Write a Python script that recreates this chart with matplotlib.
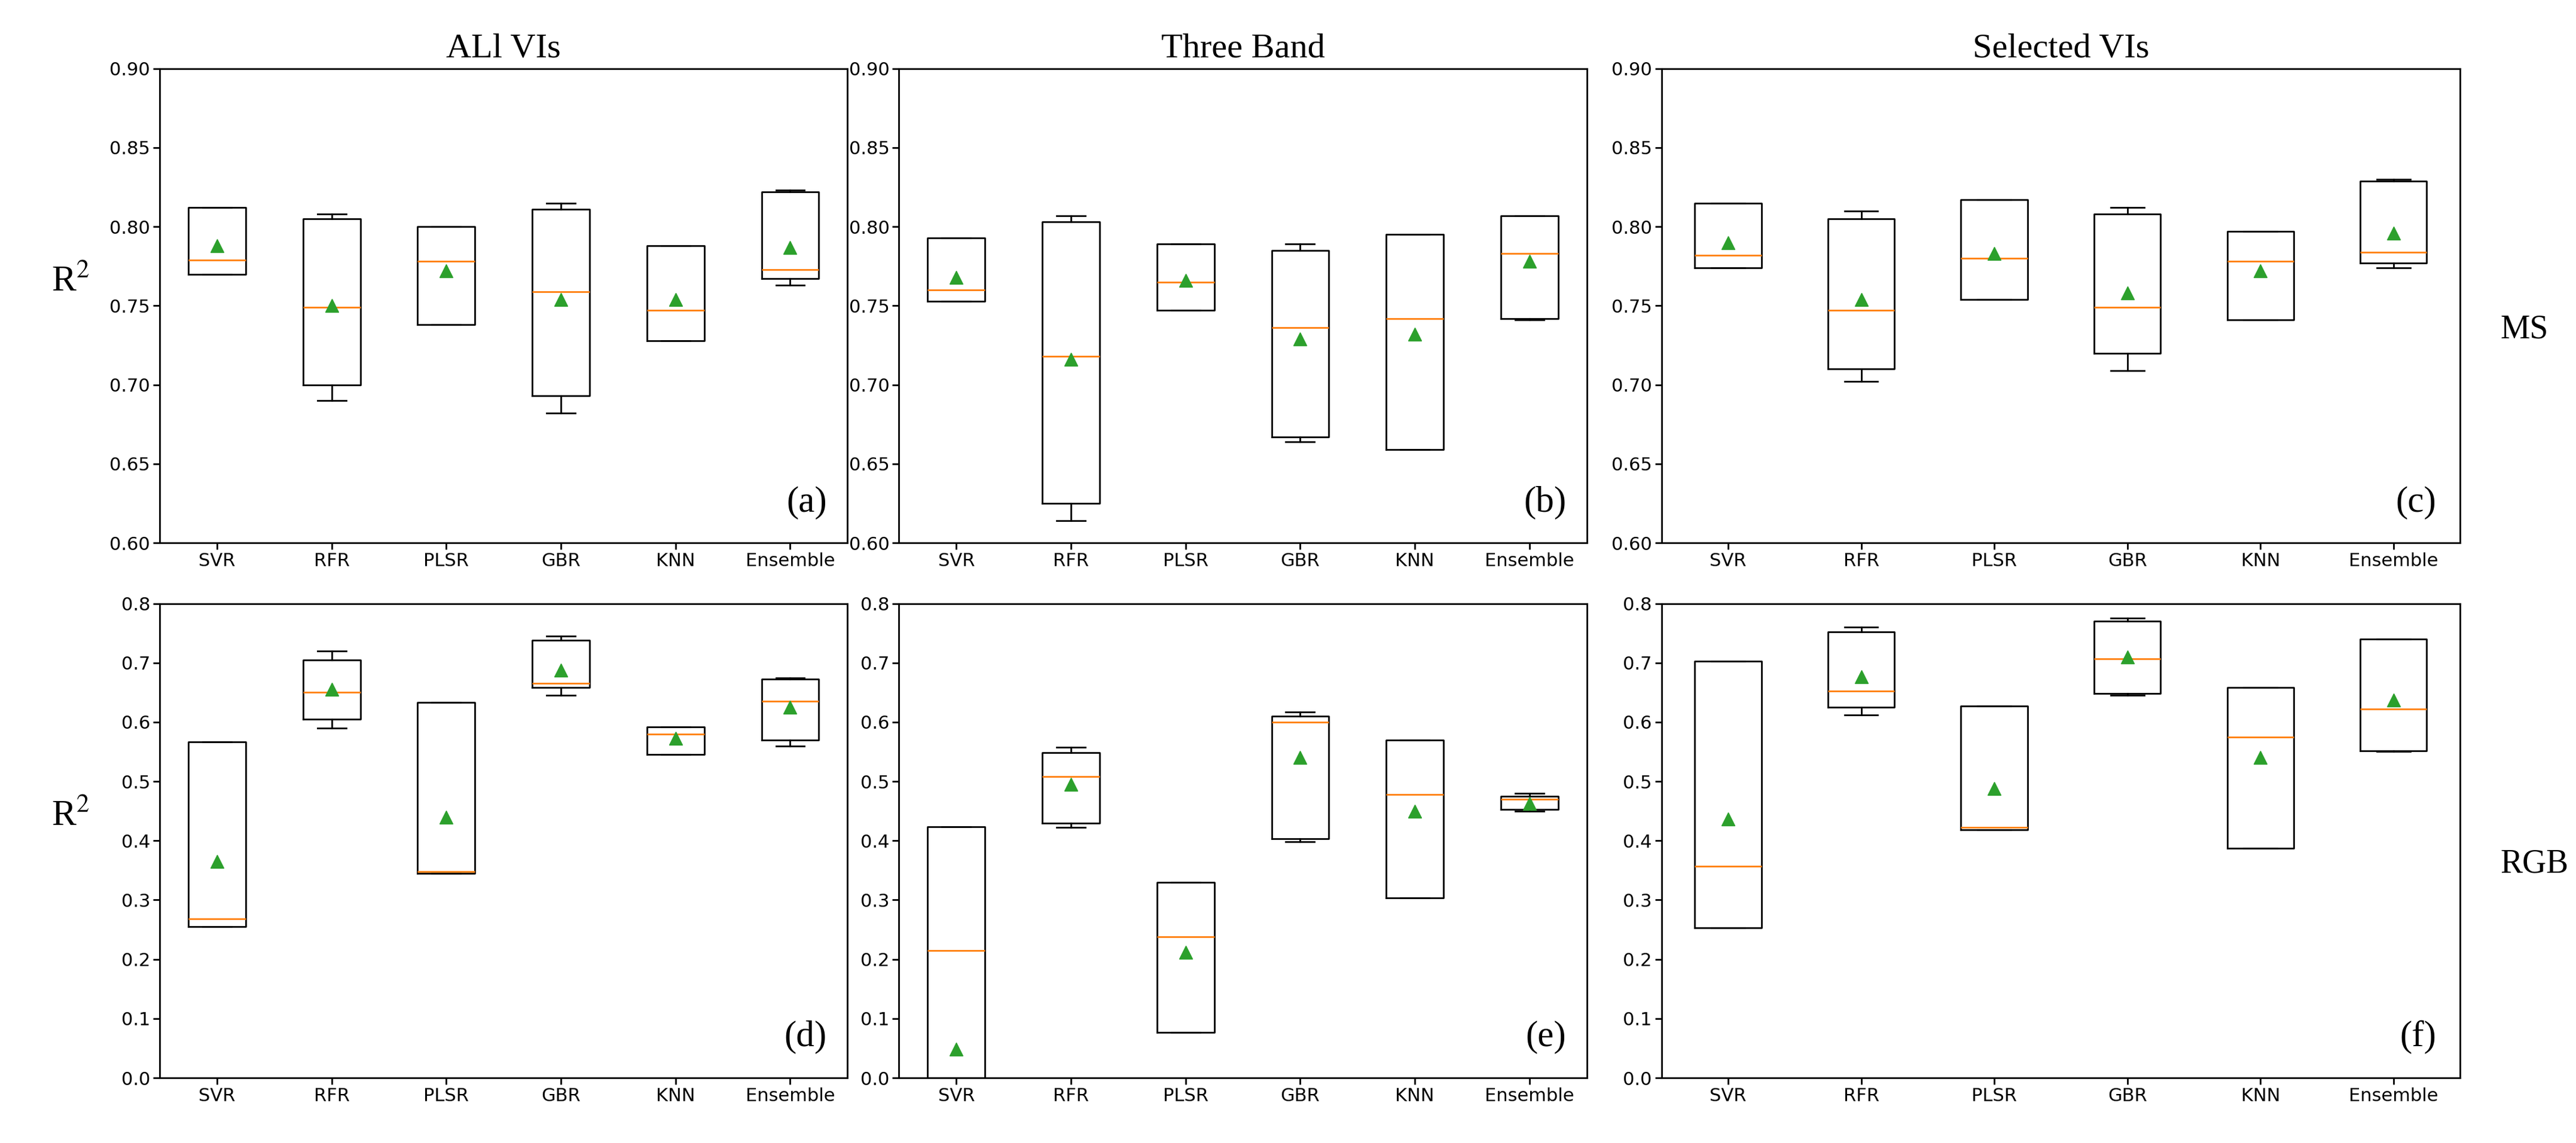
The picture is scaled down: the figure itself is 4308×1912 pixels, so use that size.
import matplotlib.pyplot as plt

plt.rcParams['mathtext.fontset'] = 'stix'

models = ["SVR", "RFR", "PLSR", "GBR", "KNN", "Ensemble"]
titles = ["ALl VIs", "Three Band", "Selected VIs"]
panel_tags = ["(a)", "(b)", "(c)", "(d)", "(e)", "(f)"]

# per model: whislo, q1, med, q3, whishi, mean
ms_all = [[0.770, 0.770, 0.779, 0.812, 0.812, 0.788],
          [0.690, 0.700, 0.749, 0.805, 0.808, 0.750],
          [0.738, 0.738, 0.778, 0.800, 0.800, 0.772],
          [0.682, 0.693, 0.759, 0.811, 0.815, 0.754],
          [0.728, 0.728, 0.747, 0.788, 0.788, 0.754],
          [0.763, 0.767, 0.773, 0.822, 0.823, 0.787]]
ms_three = [[0.753, 0.753, 0.760, 0.793, 0.793, 0.768],
            [0.614, 0.625, 0.718, 0.803, 0.807, 0.716],
            [0.747, 0.747, 0.765, 0.789, 0.789, 0.766],
            [0.664, 0.667, 0.736, 0.785, 0.789, 0.729],
            [0.659, 0.659, 0.742, 0.795, 0.795, 0.732],
            [0.741, 0.742, 0.783, 0.807, 0.807, 0.778]]
ms_sel = [[0.774, 0.774, 0.782, 0.815, 0.815, 0.790],
          [0.702, 0.710, 0.747, 0.805, 0.810, 0.754],
          [0.754, 0.754, 0.780, 0.817, 0.817, 0.783],
          [0.709, 0.720, 0.749, 0.808, 0.812, 0.758],
          [0.741, 0.741, 0.778, 0.797, 0.797, 0.772],
          [0.774, 0.777, 0.784, 0.829, 0.830, 0.796]]
rgb_all = [[0.255, 0.255, 0.268, 0.567, 0.567, 0.365],
           [0.590, 0.605, 0.650, 0.705, 0.720, 0.655],
           [0.345, 0.345, 0.348, 0.633, 0.633, 0.440],
           [0.645, 0.658, 0.665, 0.738, 0.745, 0.688],
           [0.545, 0.545, 0.580, 0.592, 0.592, 0.573],
           [0.560, 0.570, 0.635, 0.672, 0.675, 0.625]]
rgb_three = [[0.000, 0.000, 0.215, 0.423, 0.423, 0.048],
             [0.422, 0.430, 0.508, 0.548, 0.558, 0.495],
             [0.077, 0.077, 0.238, 0.330, 0.330, 0.212],
             [0.398, 0.403, 0.600, 0.610, 0.617, 0.540],
             [0.303, 0.303, 0.478, 0.570, 0.570, 0.450],
             [0.450, 0.453, 0.470, 0.475, 0.480, 0.463]]
rgb_sel = [[0.253, 0.253, 0.357, 0.703, 0.703, 0.437],
           [0.612, 0.625, 0.652, 0.752, 0.760, 0.677],
           [0.418, 0.418, 0.422, 0.627, 0.627, 0.488],
           [0.645, 0.648, 0.707, 0.770, 0.775, 0.710],
           [0.387, 0.387, 0.575, 0.658, 0.658, 0.540],
           [0.550, 0.552, 0.622, 0.740, 0.740, 0.637]]

panels = [ms_all, ms_three, ms_sel, rgb_all, rgb_three, rgb_sel]

fig = plt.figure(figsize=(43.08, 19.12), dpi=100)
lefts = [0.062, 0.349, 0.645]
widths = [0.267, 0.267, 0.310]
bottoms = [0.525, 0.057]
height = 0.415

for i, data in enumerate(panels):
    row, col = divmod(i, 3)
    ax = fig.add_axes([lefts[col], bottoms[row], widths[col], height])
    stats = []
    for name, s in zip(models, data):
        stats.append(dict(label=name, whislo=s[0], q1=s[1], med=s[2],
                          q3=s[3], whishi=s[4], mean=s[5], fliers=[]))
    ax.bxp(stats, showmeans=True, widths=0.5,
           boxprops=dict(linewidth=2),
           whiskerprops=dict(linewidth=2),
           capprops=dict(linewidth=2),
           medianprops=dict(color="C1", linewidth=2),
           meanprops=dict(marker="^", markerfacecolor="C2",
                          markeredgecolor="C2", markersize=16))
    ax.tick_params(labelsize=22, width=2, length=8)
    for sp in ax.spines.values():
        sp.set_linewidth(2)
    if row == 0:
        ax.set_ylim(0.6, 0.9)
        ax.set_yticks([0.60, 0.65, 0.70, 0.75, 0.80, 0.85, 0.90])
        ax.set_yticklabels([f"{v:.2f}" for v in ax.get_yticks()])
        ax.set_title(titles[col], fontsize=42, family="Liberation Serif", pad=14)
    else:
        ax.set_ylim(0.0, 0.8)
        ax.set_yticks([i / 10 for i in range(9)])
        ax.set_yticklabels([f"{v:.1f}" for v in ax.get_yticks()])
    ax.text(0.97, 0.05, panel_tags[i], transform=ax.transAxes, ha="right",
            va="bottom", fontsize=44, family="Liberation Serif")
    if col == 0:
        ax.text(-0.13, 0.55, "R$^2$", transform=ax.transAxes, fontsize=44,
                family="Liberation Serif", ha="center", va="center")
    if col == 2:
        ax.text(1.05, 0.45, ["MS", "RGB"][row], transform=ax.transAxes,
                fontsize=40, family="Liberation Serif", ha="left", va="center")

fig.savefig("out.png")
